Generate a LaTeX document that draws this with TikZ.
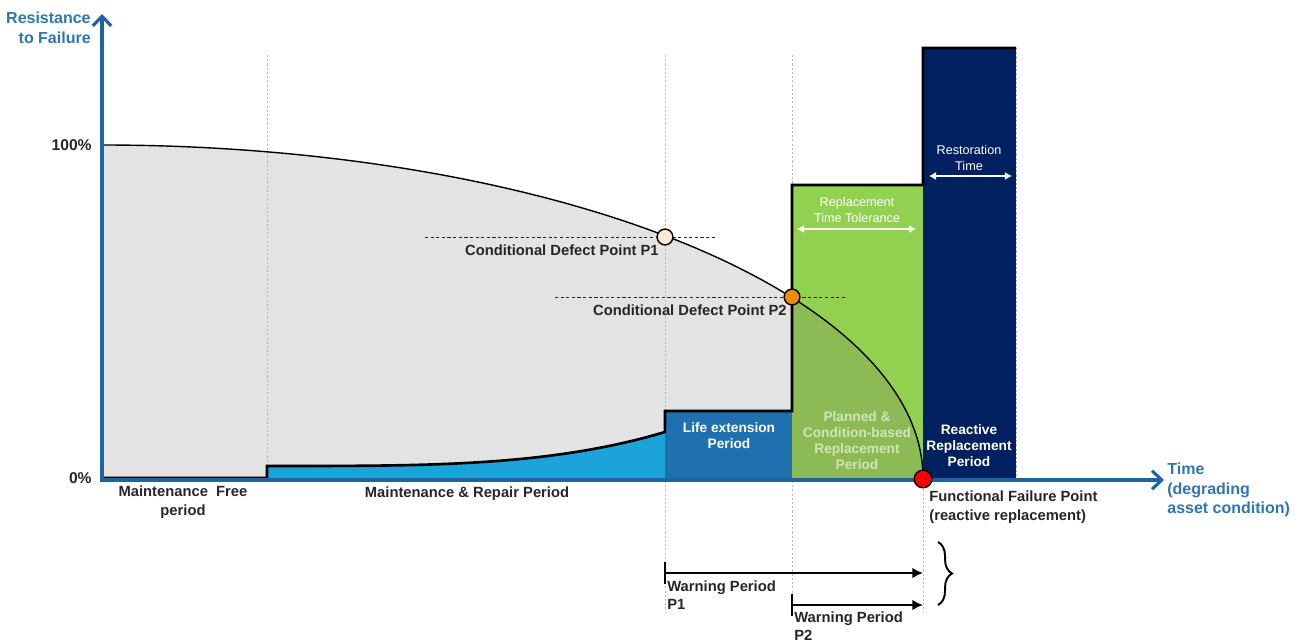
\documentclass[tikz,border=0pt]{standalone}
\usepackage{fontspec}
\setmainfont{Liberation Sans}
\usetikzlibrary{arrows.meta,decorations.pathreplacing}

\definecolor{axisblue}{RGB}{31,100,160}
\definecolor{labelblue}{RGB}{46,117,182}
\definecolor{areagrey}{RGB}{227,227,227}
\definecolor{repairblue}{RGB}{27,163,218}
\definecolor{lifeblue}{RGB}{32,112,176}
\definecolor{plangreen}{RGB}{146,208,80}
\definecolor{planmuted}{RGB}{140,187,86}
\definecolor{reactnavy}{RGB}{0,32,96}
\definecolor{pointone}{RGB}{253,234,214}
\definecolor{pointtwo}{RGB}{240,140,0}
\definecolor{textgrey}{RGB}{38,38,38}

\tikzset{
  darklabel/.style={font=\bfseries\fontsize{8.4}{10.5}\selectfont, text=textgrey, inner sep=0pt},
  ticklabel/.style={font=\bfseries\fontsize{8.9}{10.5}\selectfont, text=textgrey, inner sep=0pt},
  axislabel/.style={font=\bfseries\fontsize{9.1}{11.2}\selectfont, text=labelblue, inner sep=0pt},
  barlabel/.style={font=\bfseries\fontsize{7.8}{9.1}\selectfont, text=white, align=center, inner sep=0pt},
  spanlabel/.style={font=\fontsize{7.2}{9}\selectfont, text=white, align=center, inner sep=0pt},
  periodline/.style={gray!55, line width=0.5pt, dash pattern=on 1.2pt off 1.2pt},
  levelline/.style={textgrey, line width=0.5pt, dash pattern=on 1.8pt off 1.4pt},
  defect/.style={circle, draw=black, line width=0.8pt, minimum size=9pt, inner sep=0pt},
  spanarrow/.style={white, line width=0.6pt, {Latex[length=4pt,width=4.5pt]}-{Latex[length=4pt,width=4.5pt]}},
  warnarrow/.style={black, line width=1.6pt, -{Latex[length=6pt,width=6pt]}},
}

\begin{document}
\begin{tikzpicture}[x=0.02cm, y=-0.02cm, line join=miter]
\useasboundingbox (0,0) rectangle (1304,644);
% Origin and half axes of the resistance curve (a quarter ellipse)
\def\ox{102}
\def\oy{478}
\def\ra{821}
\def\rb{333}
\coordinate (O) at (\ox,\oy);
\coordinate (Top) at (\ox,145);

% Grey area below the resistance curve
\fill[areagrey] (O) -- (Top) -- plot[domain=90:0,samples=90] ({\ox+\ra*cos(\x)},{\oy-\rb*sin(\x)}) -- cycle;

% Period boundaries
\foreach \px/\ya/\yb in {267/55/466, 665/55/613, 792/55/613, 923/55/613, 1016/48/478}
  \draw[periodline] (\px,\ya) -- (\px,\yb);

% Maintenance & repair area
\fill[repairblue] (267,\oy) -- (267,466) -- plot[domain=0:1,samples=40] ({267+398*\x},{466-34*\x*\x*\x*sqrt(\x)}) -- (665,\oy) -- cycle;

% Life extension, planned and reactive periods
\fill[lifeblue] (665,411) rectangle (792,\oy);
\fill[plangreen] (792,185) rectangle (923,\oy);
\begin{scope}
\clip (792,185) rectangle (923,\oy);
\fill[planmuted] (O) -- (Top) -- plot[domain=90:0,samples=90] ({\ox+\ra*cos(\x)},{\oy-\rb*sin(\x)}) -- cycle;
\end{scope}
\fill[reactnavy] (923,48) rectangle (1016,\oy);

% Step outline over the periods
\draw[line width=1.5pt] (O) -- (267,\oy) -- (267,466)
  -- plot[domain=0:1,samples=40] ({267+398*\x},{466-34*\x*\x*\x*sqrt(\x)})
  -- (665,411) -- (792,411) -- (792,185) -- (923,185) -- (923,48) -- (1016,48);

% Resistance curve
\draw[line width=0.8pt] plot[domain=90:0,samples=90] ({\ox+\ra*cos(\x)},{\oy-\rb*sin(\x)});

% Axes
\coordinate (A) at (\ox,480);
\coordinate (Ytip) at (\ox,14);
\coordinate (Xtip) at (1164,480);
\draw[axisblue, line width=1.8pt, -{Straight Barb[length=5.5pt,width=10.5pt]}] (A) -- (Ytip);
\draw[axisblue, line width=1.8pt, -{Straight Barb[length=5.5pt,width=10.5pt]}] ([xshift=-0.9pt]A) -- (Xtip);
\node[axislabel, anchor=east, align=right] (ylab) at (91,28) {Resistance\\to Failure};
\node[axislabel, anchor=west, align=left] (xlab) at (1167,490) {Time\\(degrading\\asset condition)};
\node[ticklabel, anchor=east] (full) at (92,145) {100\%};
\node[ticklabel, anchor=east] (zero) at (92,478) {0\%};

% Period names
\node[darklabel, align=center] (mfree) at (183,502) {Maintenance\ \ Free\\period};
\node[darklabel] (repair) at (467,494) {Maintenance \& Repair Period};
\node[barlabel] (life) at (729,436) {Life extension\\Period};
\node[barlabel, text opacity=0.6] (planned) at (857,441) {Planned \&\\Condition-based\\Replacement\\Period};
\node[barlabel] (reactive) at (969,446) {Reactive\\Replacement\\Period};

% Tolerance and restoration spans
\node[spanlabel] (tolerance) at (857,210) {Replacement\\Time Tolerance};
\coordinate (TolL) at (797,229);
\coordinate (TolR) at (916,229);
\draw[spanarrow] (TolL) -- (TolR);
\node[spanlabel] (restore) at (969,158) {Restoration\\Time};
\coordinate (ResL) at (929,176);
\coordinate (ResR) at (1012,176);
\draw[spanarrow] (ResL) -- (ResR);

% Defect points and their levels
\draw[levelline] (425,237) -- (715,237);
\draw[levelline] (555,297) -- (845,297);
\node[defect, fill=pointone] (p1) at (665,237) {};
\node[defect, fill=pointtwo] (p2) at (792,297) {};
\node[defect, fill=red, minimum size=10pt] (ffp) at (923,479) {};
\node[darklabel, anchor=east] (p1lab) at (659,250) {Conditional Defect Point P1};
\node[darklabel, anchor=east] (p2lab) at (787,310) {Conditional Defect Point P2};
\node[darklabel, anchor=west, align=left] (ffplab) at (929,507) {Functional Failure Point\\(reactive replacement)};

% Warning periods
\coordinate (w1) at (665,573);
\coordinate (w2) at (792,605);
\draw[line width=1.6pt] ([yshift=6.5pt]w1) -- ([yshift=-6.5pt]w1);
\draw[line width=1.6pt] ([yshift=6.5pt]w2) -- ([yshift=-6.5pt]w2);
\draw[warnarrow] (w1) -- (ffp |- w1);
\draw[warnarrow] (w2) -- (ffp |- w2);
\node[darklabel, anchor=west, align=left] (w1lab) at (667,595) {Warning Period\\P1};
\node[darklabel, anchor=west, align=left] (w2lab) at (794,626) {Warning Period\\P2};

% Brace over both warning periods
\coordinate (BraceTop) at (938,542);
\coordinate (BraceBot) at (938,605);
\draw[line width=1.1pt, decorate, decoration={brace, amplitude=8pt}] (BraceTop) -- (BraceBot);

\end{tikzpicture}
\end{document}
